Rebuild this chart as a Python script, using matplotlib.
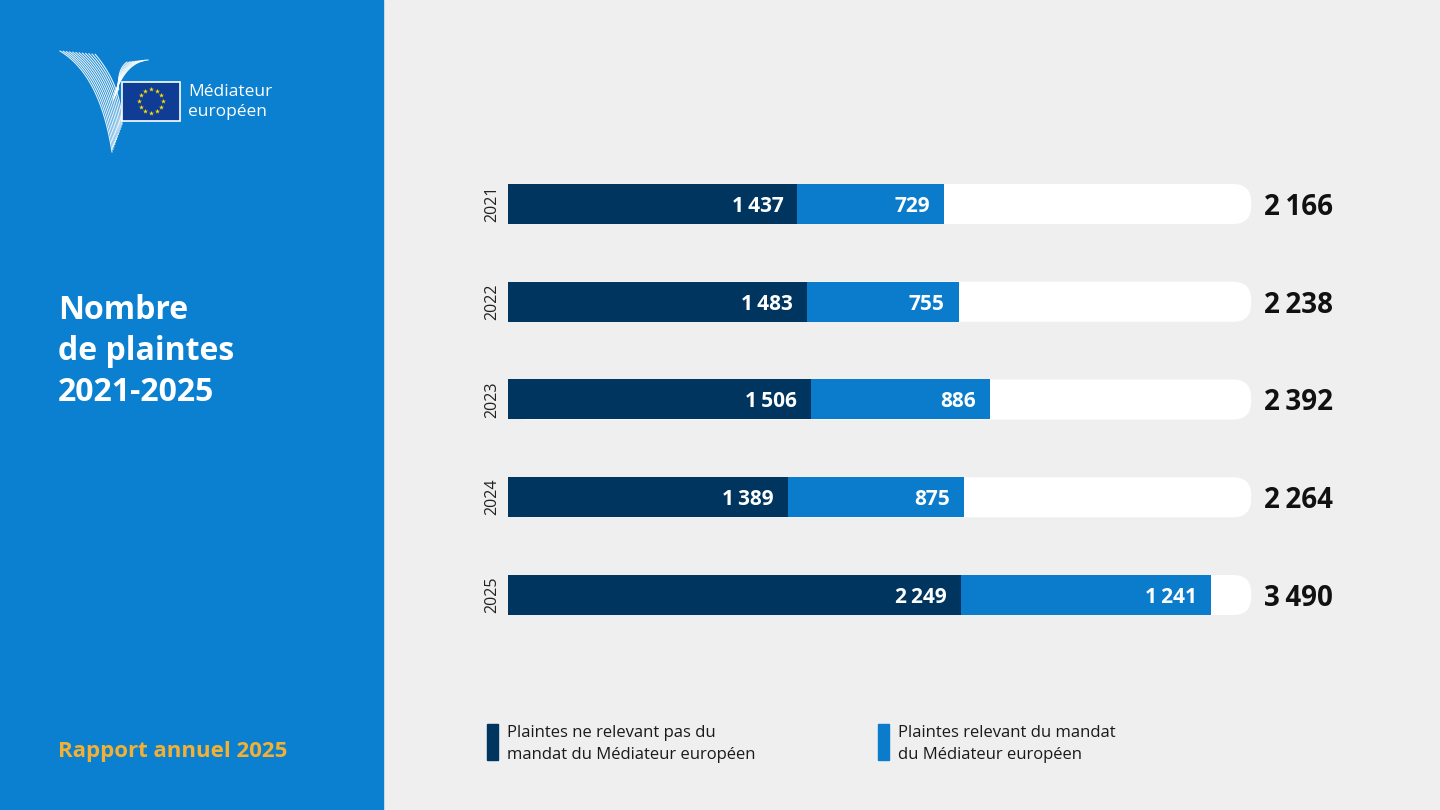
import numpy as np
import matplotlib.pyplot as plt
from matplotlib.patches import Rectangle, FancyBboxPatch

plt.rcParams['font.family'] = ['Open Sans', 'DejaVu Sans']

# data
years = ['2021', '2022', '2023', '2024', '2025']
hors_mandat = [1437, 1483, 1506, 1389, 2249]
dans_mandat = [729, 755, 886, 875, 1241]
totals = [2166, 2238, 2392, 2264, 3490]
legend_labels = ['Plaintes ne relevant pas du\nmandat du Médiateur européen',
                 'Plaintes relevant du mandat\ndu Médiateur européen']
track_max = 3690

DARK = '#00355f'
MID = '#0a7ccb'
PANEL = '#0b80d0'
BG = '#efefef'
GOLD = '#f2b134'


def fmt(v):
    s = f'{v:,}'.replace(',', '\u2009')
    return s


fig = plt.figure(figsize=(14.4, 8.1), dpi=100)
fig.patch.set_facecolor(BG)

# overlay in pixel coordinates for the decoration
deco = fig.add_axes([0, 0, 1, 1])
deco.set_xlim(0, 1440)
deco.set_ylim(810, 0)
deco.axis('off')
deco.add_patch(Rectangle((0, 0), 383, 810, color=PANEL, zorder=0))

# logo: stylised wings
t = np.linspace(0, 1, 60)
for k in range(12):
    x0 = 60 + k * 3.2
    y0 = 51 + k * 0.3
    x1 = 112 + k * 0.9
    y1 = 152 - k * 2.5
    cx = 100 + k * 2.0
    cy = 75 + k * 1.0
    xs = (1 - t) ** 2 * x0 + 2 * (1 - t) * t * cx + t ** 2 * x1
    ys = (1 - t) ** 2 * y0 + 2 * (1 - t) * t * cy + t ** 2 * y1
    deco.plot(xs, ys, color='white', lw=0.8, alpha=0.9, zorder=2)
for k in range(8):
    x0 = 148 - k * 3.0
    y0 = 60 + k * 0.3
    x1 = 113 + k * 0.8
    y1 = 100 - k * 1.5
    cx = 124 - k * 1.0
    cy = 62 + k * 1.0
    xs = (1 - t) ** 2 * x0 + 2 * (1 - t) * t * cx + t ** 2 * x1
    ys = (1 - t) ** 2 * y0 + 2 * (1 - t) * t * cy + t ** 2 * y1
    deco.plot(xs, ys, color='white', lw=0.8, alpha=0.9, zorder=2)
deco.add_patch(Rectangle((122, 82), 58, 39, facecolor='#0f3d96',
                         edgecolor='white', lw=1.2, zorder=3))
ang = np.linspace(0, 2 * np.pi, 13)[:-1]
deco.scatter(151 + 12 * np.cos(ang), 101 + 12 * np.sin(ang), marker='*',
             s=14, color='#ffdd00', lw=0, zorder=4)
deco.text(188, 92, 'Médiateur', color='white', fontsize=12.5, va='center', ha='left')
deco.text(188, 112, 'européen', color='white', fontsize=12.5, va='center', ha='left')

# titles
deco.text(58, 294, 'Nombre\nde plaintes\n2021-2025', color='white', fontsize=23,
          fontweight='bold', va='top', ha='left', linespacing=1.32)
deco.text(58, 751, 'Rapport annuel 2025', color=GOLD, fontsize=16,
          fontweight='bold', va='center', ha='left')

# bars axes: x=0 at pixel 508, 0.2014 px per complaint
px_per = 0.2014
x0_px = 508
ax = fig.add_axes([x0_px / 1440, 0, (1440 - x0_px) / 1440, 1])
ax.set_xlim(0, (1440 - x0_px) / px_per)
step = 97.75
ax.set_ylim((810 - 204) / step, -204 / step)
ax.axis('off')
ax.patch.set_alpha(0)

ypos = np.arange(len(years))
h = 40 / step
rad_x = 18 / px_per
track = [FancyBboxPatch((0, y - h / 2), track_max, h,
                        boxstyle=f'round,pad=0,rounding_size={rad_x}',
                        mutation_aspect=(18 / step) / rad_x,
                        facecolor='white', edgecolor='none', zorder=1)
         for y in ypos]
for p in track:
    ax.add_patch(p)

ax.barh(ypos, hors_mandat, height=h, color=DARK, zorder=2)
ax.barh(ypos, dans_mandat, left=hors_mandat, height=h, color=MID, zorder=2)

pad = 14 / px_per
for y, a, b, tot, yr in zip(ypos, hors_mandat, dans_mandat, totals, years):
    ax.text(a - pad, y, fmt(a), color='white', fontsize=15, fontweight='bold',
            ha='right', va='center_baseline', zorder=3)
    ax.text(a + b - pad, y, fmt(b), color='white', fontsize=15, fontweight='bold',
            ha='right', va='center_baseline', zorder=3)
    ax.text(track_max + 13 / px_per, y, fmt(tot), color='#111111', fontsize=20,
            fontweight='bold', ha='left', va='center_baseline', zorder=3)
    ax.text(-16 / px_per, y, yr, color='#222222', fontsize=11.5, rotation=90,
            ha='center', va='center', zorder=3)

# legend
for lx, col, lab in zip([487, 878], [DARK, MID], legend_labels):
    deco.add_patch(Rectangle((lx, 724), 11, 36, color=col, zorder=2))
    deco.text(lx + 20, 744, lab, color='#1a1a1a', fontsize=12, ha='left',
              va='center', linespacing=1.5)

fig.savefig('out.png', dpi=100, facecolor=BG)
